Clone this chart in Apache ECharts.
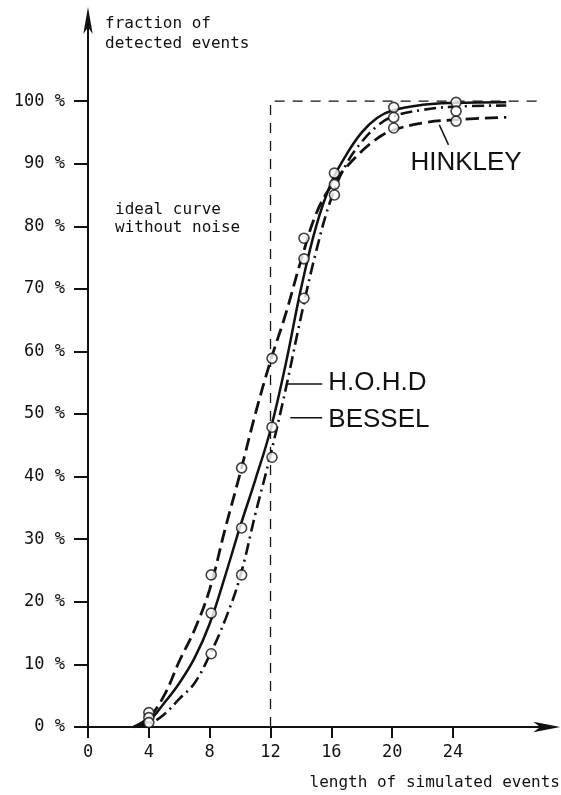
<!DOCTYPE html>
<html><head><meta charset="utf-8">
<script src="https://cdn.jsdelivr.net/npm/echarts@6/dist/echarts.min.js"></script>
<style>html,body{margin:0;padding:0;background:#fff}#c{width:561px;height:795px}</style>
</head><body><div id="c"></div>
<script>
// ---- data ----
const xTicks = [0, 4, 8, 12, 16, 20, 24];
const yTicks = [0, 10, 20, 30, 40, 50, 60, 70, 80, 90, 100];
const curveX = [3, 4, 5, 6, 7, 8, 9, 10, 11, 12, 13, 14, 15, 16, 17, 18, 19, 20, 22, 24, 27.5];
const hinkleyY = [0, 1.5, 5, 10.5, 15.5, 22, 31.5, 40.5, 50, 58.5, 66, 74.5, 82, 86.5, 89.5, 92, 94, 95.3, 96.5, 97, 97.4];
const hohdY    = [0, 1, 3.8, 7, 11, 16.5, 24, 32, 39.5, 47.5, 58, 70, 80, 87, 91.5, 95, 97.3, 98.5, 99.4, 99.7, 99.8];
const besselY  = [0, 0.5, 2, 4.5, 7, 11.5, 17, 24, 34, 43.5, 54, 65.5, 76, 84.5, 90, 93.5, 96, 97.5, 98.6, 99.1, 99.3];
const ptX       = [4, 8.1, 10.1, 12.1, 14.2, 16.2, 20.1, 24.2];
const ptHinkley = [2.3, 24.3, 41.4, 58.9, 78.1, 85.0, 95.7, 96.8];
const ptHohd    = [1.5, 18.2, 31.8, 47.9, 74.8, 88.5, 99.0, 99.8];
const ptBessel  = [0.7, 11.7, 24.3, 43.1, 68.5, 86.7, 97.4, 98.4];
const idealX = [12, 12, 30];
const idealY = [0, 100, 100];
const yTitle = 'fraction of\ndetected events';
const xTitle = 'length of simulated events';
const idealText = 'ideal curve\nwithout noise';

// ---- chart ----
const zip = (xs, ys) => xs.map((x, i) => [x, ys[i]]);
const chart = echarts.init(document.getElementById('c'), null, {renderer: 'canvas'});
const MONO = 'DejaVu Sans Mono';
const BIG = 'Liberation Sans';
const black = '#111';

chart.setOption({
  animation: false,
  backgroundColor: '#fff',
  grid: {left: 88, right: 16.7, top: 26, bottom: 68},
  xAxis: {
    type: 'value', min: 0, max: 30,
    splitLine: {show: false},
    axisLine: {lineStyle: {color: black, width: 2}, symbol: ['none', 'arrow'], symbolSize: [8, 27], symbolOffset: [0, 16]},
    axisTick: {customValues: xTicks, length: 11, lineStyle: {color: black, width: 2}},
    axisLabel: {customValues: xTicks, margin: 17, color: black, fontFamily: MONO, fontSize: 17}
  },
  yAxis: {
    type: 'value', min: 0, max: 112,
    splitLine: {show: false},
    axisLine: {lineStyle: {color: black, width: 2}, symbol: ['none', 'arrow'], symbolSize: [7, 27], symbolOffset: [0, 19]},
    axisTick: {customValues: yTicks, length: 14, lineStyle: {color: black, width: 2}},
    axisLabel: {customValues: yTicks, margin: 23, color: black, fontFamily: MONO, fontSize: 17, formatter: '{value} %'}
  },
  series: [
    {name: 'ideal', type: 'line', data: zip(idealX, idealY), symbol: 'none',
     lineStyle: {color: black, width: 1.3, type: [10, 8]}},
    {name: 'HINKLEY', type: 'line', smooth: 0.4, data: zip(curveX, hinkleyY), symbol: 'none',
     lineStyle: {color: black, width: 2.8, type: [13, 6]}},
    {name: 'H.O.H.D', type: 'line', smooth: 0.4, data: zip(curveX, hohdY), symbol: 'none',
     lineStyle: {color: black, width: 2.5}},
    {name: 'BESSEL', type: 'line', smooth: 0.4, data: zip(curveX, besselY), symbol: 'none',
     lineStyle: {color: black, width: 2.6, type: [12, 5, 2, 5]}},
    {name: 'pts HINKLEY', type: 'scatter', data: zip(ptX, ptHinkley), symbol: 'circle', symbolSize: 10,
     itemStyle: {color: '#fff', borderColor: black, borderWidth: 1.6}, z: 5},
    {name: 'pts H.O.H.D', type: 'scatter', data: zip(ptX, ptHohd), symbol: 'circle', symbolSize: 10,
     itemStyle: {color: '#fff', borderColor: black, borderWidth: 1.6}, z: 5},
    {name: 'pts BESSEL', type: 'scatter', data: zip(ptX, ptBessel), symbol: 'circle', symbolSize: 10,
     itemStyle: {color: '#fff', borderColor: black, borderWidth: 1.6}, z: 5}
  ]
});

const P = (x, y) => chart.convertToPixel({gridIndex: 0}, [x, y]);
function leader(a, b) {
  const p = P(a[0], a[1]), q = P(b[0], b[1]);
  return {type: 'line', shape: {x1: p[0], y1: p[1], x2: q[0], y2: q[1]}, style: {stroke: black, lineWidth: 1.5}, z: 10};
}
function label(txt, at) {
  const p = P(at[0], at[1]);
  return {type: 'text', x: p[0], y: p[1], z: 10,
          style: {text: txt, fill: black, font: '26px "' + BIG + '"', textAlign: 'left', textVerticalAlign: 'middle'}};
}
chart.setOption({
  graphic: [
    {type: 'text', x: 105, y: 14, style: {text: yTitle, fill: black, font: '16px "' + MONO + '"', lineHeight: 20, textAlign: 'left', textVerticalAlign: 'top'}},
    {type: 'text', x: 560, y: 783, style: {text: xTitle, fill: black, font: '16px "' + MONO + '"', textAlign: 'right', textVerticalAlign: 'middle'}},
    {type: 'text', x: 115, y: 201, style: {text: idealText, fill: black, font: '16px "' + MONO + '"', lineHeight: 18, textAlign: 'left', textVerticalAlign: 'top'}},
    leader([23.1, 96.2], [23.7, 93.0]),
    label('HINKLEY', [21.2, 90.1]),
    leader([13.1, 54.8], [15.4, 54.8]),
    label('H.O.H.D', [15.8, 55.0]),
    leader([13.3, 49.4], [15.4, 49.4]),
    label('BESSEL', [15.8, 49.0])
  ]
});
</script>
</body></html>
